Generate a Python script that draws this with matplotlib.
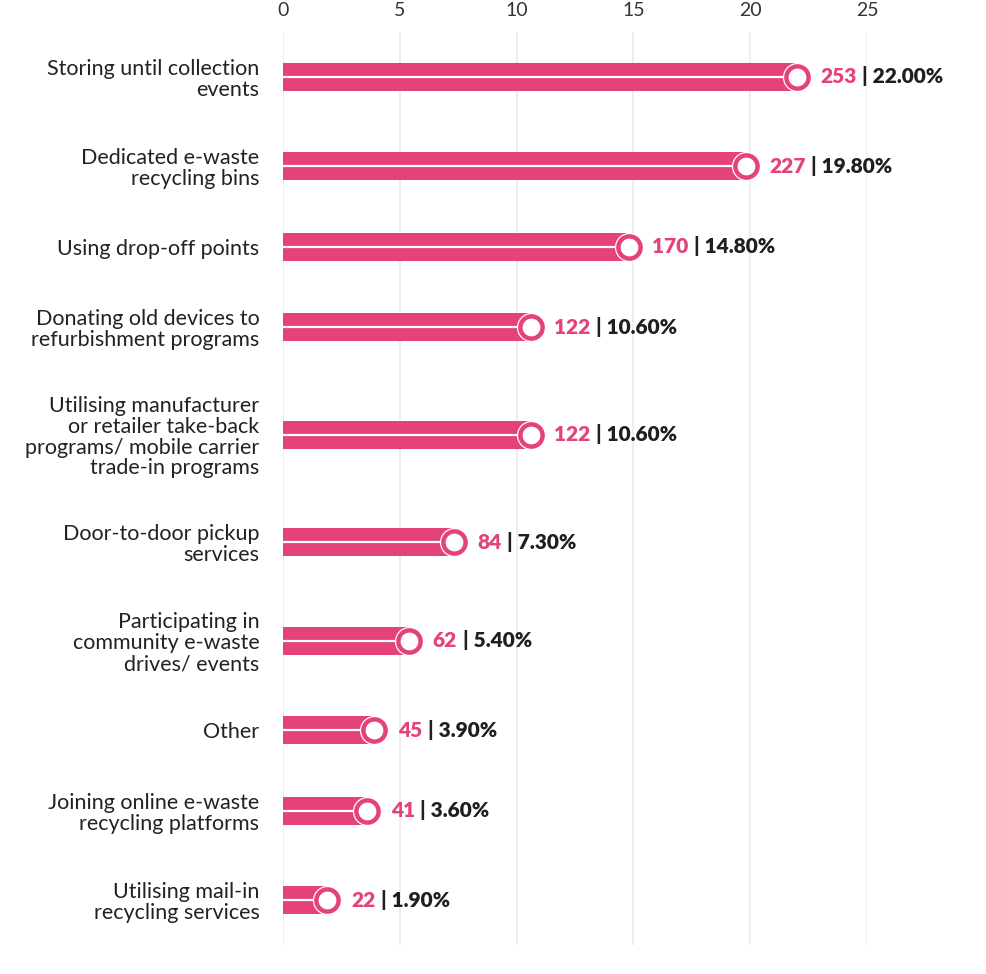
import matplotlib.pyplot as plt
import numpy as np

plt.rcParams['font.family'] = ['Lato', 'DejaVu Sans']

categories = [
    "Storing until collection\nevents",
    "Dedicated e-waste\nrecycling bins",
    "Using drop-off points",
    "Donating old devices to\nrefurbishment programs",
    "Utilising manufacturer\nor retailer take-back\nprograms/ mobile carrier\ntrade-in programs",
    "Door-to-door pickup\nservices",
    "Participating in\ncommunity e-waste\ndrives/ events",
    "Other",
    "Joining online e-waste\nrecycling platforms",
    "Utilising mail-in\nrecycling services",
]
counts = [253, 227, 170, 122, 122, 84, 62, 45, 41, 22]
percent = [22.0, 19.8, 14.8, 10.6, 10.6, 7.3, 5.4, 3.9, 3.6, 1.9]
xticks = [0, 5, 10, 15, 20, 25]

PINK = "#E5427A"
DARK = "#1f1f1f"

# each row gets room according to how many lines its label has
lines = np.array([c.count("\n") + 1 for c in categories])
row_h = 53 + 18 * lines
ypos = np.cumsum(row_h) - row_h / 2
total = row_h.sum()

fig = plt.figure(figsize=(9.86, 9.74), dpi=100)
ax = fig.add_axes([283 / 986, 1 - 945 / 974, (867 - 283) / 986, (945 - 32) / 974])

ax.barh(ypos, percent, height=28, color=PINK, zorder=2)
ax.hlines(ypos, 0, percent, color="white", lw=1.6, zorder=3)
ax.plot(percent, ypos, "o", ms=21, mfc="white", mec="white", mew=0, zorder=4)
ax.plot(percent, ypos, "o", ms=16, mfc="white", mec=PINK, mew=3.2, zorder=5)

for y, p, c in zip(ypos, percent, counts):
    t = ax.annotate(str(c), (p, y), xytext=(17, 0), textcoords="offset points",
                    color=PINK, fontsize=15, fontweight="heavy", va="center", ha="left")
    ax.annotate(f"| {p:.2f}%", xy=(1, 0), xycoords=t, xytext=(4, 0),
                textcoords="offset points", color=DARK, fontsize=15,
                fontweight="heavy", va="bottom", ha="left")

ax.set_xlim(0, 25)
ax.set_ylim(total, 0)
ax.set_xticks(xticks)
ax.xaxis.tick_top()
ax.tick_params(axis="x", length=0, pad=9, labelsize=14, labelcolor="#333333")
ax.set_yticks(ypos)
ax.set_yticklabels(categories, fontsize=15.5, color="#222222", linespacing=1.05)
ax.tick_params(axis="y", length=0, pad=17)
ax.grid(axis="x", color="#ebebeb", lw=1.2, zorder=0)
ax.set_axisbelow(True)
for s in ax.spines.values():
    s.set_visible(False)

fig.savefig("out.png", dpi=100, facecolor="white")
